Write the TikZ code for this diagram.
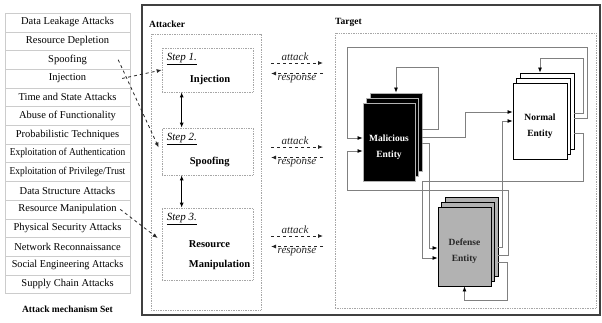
\documentclass[tikz,border=0pt]{standalone}
\usepackage{fontspec}
\setmainfont{Liberation Serif}
\usetikzlibrary{arrows.meta, positioning, calc}

\begin{document}
\begin{tikzpicture}[
    x=1pt, y=-1pt,
    > = {Latex[length=5pt, width=4pt]},
    listrow/.style={draw=gray!40, minimum width=125pt, minimum height=18.7pt, inner sep=0pt, font=\fontsize{10.5}{12}\selectfont},
    dotbox/.style={draw=gray!70, densely dotted, line width=0.7pt, inner sep=0pt},
    stepbox/.style={dotbox, minimum width=91pt},
    steptext/.style={anchor=west, align=left, inner sep=0pt, font=\fontsize{10.5}{20}\selectfont\bfseries},
    title/.style={anchor=west, inner sep=0pt, font=\fontsize{9.5}{11}\selectfont\bfseries},
    sheet/.style={line width=0.9pt, inner sep=0pt},
    malsheet/.style={sheet, fill=black, draw=gray!60, minimum width=52pt, minimum height=78pt},
    normsheet/.style={sheet, fill=white, draw=black, minimum width=54pt, minimum height=76pt},
    defsheet/.style={sheet, fill=gray!60, draw=black, minimum width=53pt, minimum height=79pt},
    enttext/.style={align=center, inner sep=0pt, font=\fontsize{9.5}{16}\selectfont\bfseries},
    wire/.style={gray, line width=0.7pt, -{Latex[length=5pt, width=4pt, color=black]}},
    flow/.style={black!85, dashed, line width=0.8pt, ->},
    msg/.style={font=\fontsize{11}{12}\selectfont\itshape, inner sep=1pt}
]

\useasboundingbox (0,0) rectangle (602,322);

% attack mechanism set
\foreach \t [count=\i] in {Data Leakage Attacks, Resource Depletion, Spoofing, Injection,
    Time and State Attacks, Abuse of Functionality, Probabilistic Techniques,
    {\scalebox{0.9}[1]{Exploitation of Authentication}}, {\scalebox{0.9}[1]{Exploitation of Privilege/Trust}},
    Data Structure Attacks, Resource Manipulation, Physical Security Attacks,
    Network Reconnaissance, {\scalebox{0.97}[1]{Social Engineering Attacks}}, Supply Chain Attacks}
    \node[listrow] (row\i) at (67.5, {13+18.7*(\i-0.5)}) {\t};
\node[font=\fontsize{9.5}{11}\selectfont\bfseries] (setcap) at (67.5,309) {Attack mechanism Set};

% outer frame
\draw[black!75, line width=1.6pt] (142,5) rectangle (600,315);

% attacker side
\node[title] (attlab) at (149,24) {Attacker};
\node[dotbox, minimum width=110pt, minimum height=276pt] (attacker) at (206,172) {};
\node[stepbox, minimum height=44pt] (step1) at (207.5,70) {};
\node[stepbox, minimum height=47pt] (step2) at (207.5,151.5) {};
\node[stepbox, minimum height=72pt] (step3) at (207.5,244) {};
\foreach \i in {1,2,3}
    \node[anchor=north west, inner sep=0pt, font=\fontsize{11}{12}\selectfont\itshape] (steplab\i) at ($(step\i.north west)+(5,5)$) {\underline{Step \i.}};
\node[steptext] (inj) at ($(step1.west)+(28,10)$) {Injection};
\node[steptext] (spf) at ($(step2.west)+(28,10.5)$) {Spoofing};
\node[steptext] (rman) at ($(step3.west)+(27,11)$) {Resource\\Manipulation};
\draw[<->, line width=0.9pt] ($(step1.south west)+(20,0)$) -- ($(step2.north west)+(20,0)$);
\draw[<->, line width=0.9pt] ($(step2.south west)+(20,0)$) -- ($(step3.north west)+(20,0)$);

% mechanisms picked for the steps
\draw[flow] ($(row4.east)+(-8,0)$) -- (step1.west);
\draw[flow] ($(row3.east)+(-12,0)$) -- ($(step2.west)+(-3,-4)$);
\draw[flow] ($(row11.east)+(-10,0)$) -- ($(step3.west)+(-4,-6)$);

% attack / response
\foreach \i/\ya in {1/63, 2/147, 3/236} {
    \coordinate (sendA\i) at (271,\ya);
    \coordinate (sendB\i) at (323,\ya);
    \coordinate (backA\i) at (323,\ya+10.5);
    \coordinate (backB\i) at (271,\ya+10.5);
    \draw[flow] (sendA\i) -- node[msg, above=0.5pt, xshift=-2pt] (atk\i) {attack} (sendB\i);
    \draw[flow] (backA\i) -- node[msg, below=0.5pt] (rsp\i) {response} (backB\i);
}

% target side
\node[title] (tgtlab) at (335,22) {Target};
\node[dotbox, minimum width=261pt, minimum height=275pt] (target) at (465.5,170.5) {};

% stacked entities
\foreach \k in {2,1} {
    \node[malsheet] (mal\k) at ({389+3.5*\k},{142-5*\k}) {};
    \node[normsheet] (norm\k) at ({540+3.5*\k},{121-5*\k}) {};
    \node[defsheet] (def\k) at ({464.5+3.5*\k},{246.5-5*\k}) {};
}
\node[malsheet] (mal) at (389,142) {};
\node[normsheet] (norm) at (540,121) {};
\node[defsheet] (def) at (464.5,246.5) {};
\node[enttext, text=white] (maltext) at ($(mal)+(0,5)$) {Malicious\\Entity};
\node[enttext] (normtext) at ($(norm)+(0,5)$) {Normal\\Entity};
\node[enttext, text=black!85] (deftext) at ($(def)+(0,5)$) {Defense\\Entity};

% wiring
\draw[wire] ($(norm2.east)+(0,7)$) -| (587,47) -| (347,138) -- ($(mal.west)+(0,-4)$);
\draw[wire] ($(mal2.east)+(0,-3)$) -| (438,67) -| (mal2.north);
\draw[wire] ($(mal2.east)+(0,5)$) -| (465,112) -- ($(norm.west)+(0,-9)$);
\draw[wire] ($(norm2.east)+(0,2)$) -| (583,58) -| ($(norm2.north)+(-7,0)$);
\draw[wire] ($(norm2.east)+(0,22)$) -| (583,181) -| (422,258) -- ($(def.west)+(0,11.5)$);
\draw[wire] ($(mal2.east)+(0,11)$) -| (429,248) -- ($(def.west)+(0,1.5)$);
\draw[wire] ($(def2.east)+(0,18.5)$) -| (508,190) -| (347,151) -- ($(mal.west)+(0,9)$);
\draw[wire] ($(def2.east)+(0,10.5)$) -| (502,121) -- (norm.west);
\draw[wire] ($(def2.east)+(0,26)$) -| (507,300) -| (def.south);

\end{tikzpicture}
\end{document}
